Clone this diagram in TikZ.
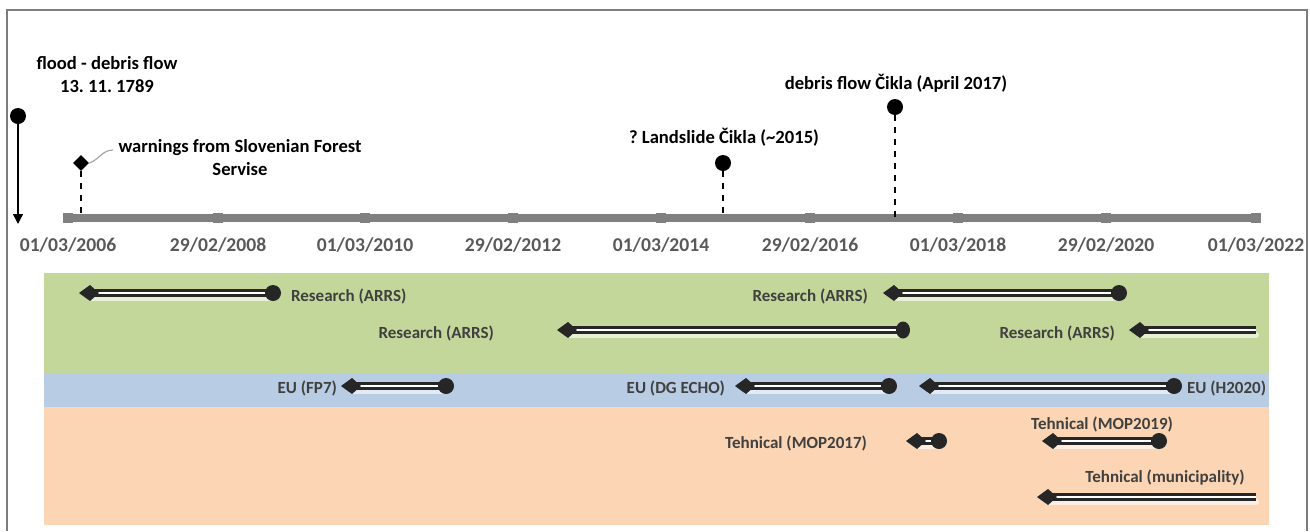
\documentclass[tikz,border=0pt]{standalone}
\usepackage{fontspec}
\setmainfont{Carlito}
\usepackage{xcolor}
\usetikzlibrary{shapes.geometric,arrows.meta}
\definecolor{framegray}{RGB}{125,125,125}
\definecolor{axisgray}{RGB}{128,128,128}
\definecolor{labelgray}{RGB}{89,89,89}
\definecolor{bandtext}{RGB}{64,64,64}
\definecolor{bargray}{RGB}{38,38,38}
\definecolor{researchgreen}{RGB}{196,215,155}
\definecolor{eublue}{RGB}{184,204,228}
\definecolor{techorange}{RGB}{252,213,180}
\tikzset{
  evtext/.style={font=\bfseries\fontsize{9.3}{11.5}\selectfont, align=center},
  bartext/.style={font=\bfseries\fontsize{8.5}{10}\selectfont, text=bandtext},
  datetext/.style={font=\bfseries\fontsize{9.8}{11}\selectfont, text=labelgray},
  dot/.style={circle, fill=black, inner sep=0pt, minimum size=8pt},
  endmark/.style={circle, fill=bargray, inner sep=0pt, minimum size=8pt},
  startmark/.pic={\fill[bargray] (-11,0) -- (0,-8) -- (9,0) -- (0,8) -- cycle;},
}
% bar from (#1) to (#2)
\newcommand{\projbar}[2]{%
  \draw[white, opacity=0.6, line width=3pt, line cap=round] ([yshift=-2.5pt]#1) -- ([yshift=-2.5pt]#2);
  \draw[bargray, line width=4pt] (#1) -- (#2);
  \draw[white, line width=1pt] (#1) -- (#2);
}
\begin{document}
\frenchspacing
\begin{tikzpicture}[x=0.5pt, y=-0.5pt]
  \useasboundingbox (0,0) rectangle (1310,531);
  % frame
  \draw[framegray, line width=1.2pt] (7,531) -- (7,10) -- (1307,10) -- (1307,531);

  % bands
  \fill[researchgreen] (44,273) rectangle (1269,373);
  \fill[eublue] (44,373) rectangle (1269,407);
  \fill[techorange] (44,407) rectangle (1269,525);

  % axis
  \draw[axisgray, line width=4pt] (68,218) coordinate (axL) -- (1256,218) coordinate (axR);
  \foreach \x/\d in {68/{01/03/2006}, 218/{29/02/2008}, 365/{01/03/2010}, 513/{29/02/2012},
                     661/{01/03/2014}, 810/{29/02/2016}, 958/{01/03/2018}, 1106/{29/02/2020},
                     1256/{01/03/2022}}
    \fill[axisgray] (\x,218) +(-5,-5) rectangle +(5,5) (\x,245) node[datetext] {\d};

  % flood - debris flow
  \node[dot] (flood) at (18,116) {};
  \coordinate (floodend) at (18,224);
  \draw[-{Triangle[width=5pt,length=5pt]}, line width=0.7pt] (flood) -- (floodend);
  \node[evtext] (floodtxt) at (107,75) {flood - debris flow\\13. 11. 1789};

  % warnings
  \node[diamond, fill=black, inner sep=0pt, minimum width=8pt, minimum height=8pt] (warn) at (81,163) {};
  \coordinate (warnaxis) at (81,214);
  \draw[dashed, line width=0.6pt] (warn) -- (warnaxis);
  \node[evtext] (warntxt) at (240,158) {warnings from Slovenian Forest\\Servise};
  \draw[gray!70, line width=0.6pt] (warn.east) to[out=20, in=180] (113,150);

  % landslide
  \node[dot] (slide) at (723,163) {};
  \coordinate (slideaxis) at (723,214);
  \draw[dashed, line width=0.6pt] (slide) -- (slideaxis);
  \node[evtext] (slidetxt) at (724,137) {? Landslide Čikla (\textasciitilde 2015)};

  % debris flow 2017
  \node[dot] (debris) at (895,107) {};
  \coordinate (debrisaxis) at (895,218);
  \draw[dashed, line width=0.6pt] (debris) -- (debrisaxis);
  \node[evtext] (debristxt) at (896,83) {debris flow Čikla (April 2017)};

  % research (ARRS)
  \coordinate (r1a) at (90,293);   \coordinate (r1b) at (273,293);
  \coordinate (r2a) at (568,330);  \coordinate (r2b) at (903,330);
  \coordinate (r3a) at (894,293);  \coordinate (r3b) at (1119,293);
  \coordinate (r4a) at (1140,330); \coordinate (r4b) at (1256,330);
  \projbar{r1a}{r1b} \projbar{r2a}{r2b} \projbar{r3a}{r3b} \projbar{r4a}{r4b}
  \foreach \p in {r1a,r2a,r3a,r4a} \pic at (\p) {startmark};
  \foreach \p in {r1b,r3b} \node[endmark] at (\p) {};
  \node[endmark, minimum width=7pt, minimum height=8.5pt, ellipse] at (r2b) {};
  \node[bartext, anchor=west] (r1txt) at (284,296) {Research (ARRS)};
  \node[bartext, anchor=east] (r2txt) at (501,333) {Research (ARRS)};
  \node[bartext, anchor=east] (r3txt) at (875,296) {Research (ARRS)};
  \node[bartext, anchor=east] (r4txt) at (1122,333) {Research (ARRS)};

  % EU
  \coordinate (e1a) at (352,386);  \coordinate (e1b) at (446,386);
  \coordinate (e2a) at (746,386);  \coordinate (e2b) at (889,386);
  \coordinate (e3a) at (930,386);  \coordinate (e3b) at (1174,386);
  \projbar{e1a}{e1b} \projbar{e2a}{e2b} \projbar{e3a}{e3b}
  \foreach \p in {e1a,e2a,e3a} \pic at (\p) {startmark};
  \foreach \p in {e1b,e2b,e3b} \node[endmark] at (\p) {};
  \node[bartext, anchor=east] (e1txt) at (344,388) {EU (FP7)};
  \node[bartext, anchor=east] (e2txt) at (732,388) {EU (DG ECHO)};
  \node[bartext, anchor=west] (e3txt) at (1180,388) {EU (H2020)};

  % tehnical
  \coordinate (t1a) at (917,441);  \coordinate (t1b) at (939,441);
  \coordinate (t2a) at (1053,441); \coordinate (t2b) at (1159,441);
  \coordinate (t3a) at (1048,497); \coordinate (t3b) at (1256,497);
  \projbar{t1a}{t1b} \projbar{t2a}{t2b} \projbar{t3a}{t3b}
  \foreach \p in {t1a,t2a,t3a} \pic at (\p) {startmark};
  \foreach \p in {t1b,t2b} \node[endmark] at (\p) {};
  \node[bartext, anchor=east] (t1txt) at (874,443) {Tehnical (MOP2017)};
  \node[bartext] (t2txt) at (1102,424) {Tehnical (MOP2019)};
  \node[bartext] (t3txt) at (1165,478) {Tehnical (municipality)};
\end{tikzpicture}
\end{document}
